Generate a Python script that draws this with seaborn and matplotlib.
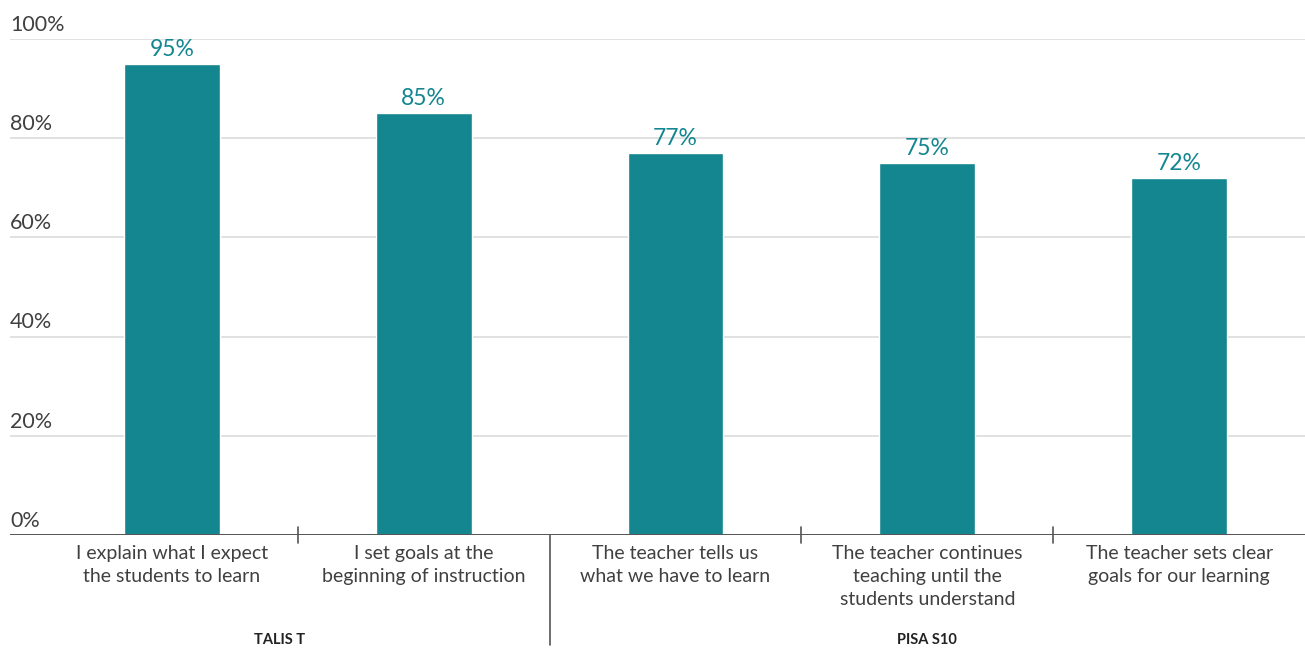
import matplotlib
matplotlib.use("Agg")
import matplotlib.pyplot as plt
import matplotlib.transforms as mtransforms
import seaborn as sns
import pandas as pd

# Data
categories = [
    "I explain what I expect\nthe students to learn",
    "I set goals at the\nbeginning of instruction",
    "The teacher tells us\nwhat we have to learn",
    "The teacher continues\nteaching until the\nstudents understand",
    "The teacher sets clear\ngoals for our learning",
]
values = [95, 85, 77, 75, 72]
groups = ["TALIS T", "PISA S10"]
group_sizes = [2, 3]
y_ticks = [0, 20, 40, 60, 80, 100]
y_tick_labels = ["0%", "20%", "40%", "60%", "80%", "100%"]

bar_color = "#13868f"
label_color = "#13868f"
text_color = "#404040"

sns.set_style("white")
plt.rcParams["font.family"] = ["Lato", "DejaVu Sans"]

fig = plt.figure(figsize=(13.05, 6.48), dpi=100)
ax = fig.add_axes([10 / 1305, (648 - 535) / 648, 1295 / 1305, (535 - 39) / 648])

df = pd.DataFrame({"cat": categories, "val": values})
sns.barplot(data=df, x="cat", y="val", color=bar_color, width=0.38,
            saturation=1, ax=ax, zorder=3)

ax.set_xlim(-0.643, 4.5)
ax.set_ylim(0, 100)
ax.set_xlabel("")
ax.set_ylabel("")

# Gridlines
for yv in y_ticks[1:]:
    ax.axhline(yv, color="#dcdcdc", lw=1.2, zorder=1)
ax.axhline(0, color="#555555", lw=1.4, zorder=4)

for s in ax.spines.values():
    s.set_visible(False)

# Y labels sitting above gridlines at the left edge
ax.set_yticks([])
blend = mtransforms.blended_transform_factory(ax.transAxes, ax.transData)
lift = mtransforms.offset_copy(blend, fig=fig, x=0, y=3, units="points")
for yv, lab in zip(y_ticks, y_tick_labels):
    ax.text(0, yv, lab, transform=lift, ha="left", va="bottom",
            fontsize=15.5, color=text_color)

# Value labels
for cont in ax.containers:
    ax.bar_label(cont, labels=[f"{v}%" for v in values], padding=3,
                 fontsize=16.5, color=label_color)

# Category labels
ax.set_xticks(range(len(categories)))
ax.set_xticklabels(categories, fontsize=14, color=text_color,
                   linespacing=1.45)
ax.tick_params(axis="x", length=0, pad=7)

# Separators between categories and groups
xblend = mtransforms.blended_transform_factory(ax.transData, ax.transAxes)
ax_h_px = 535 - 39
boundaries = [0.5, 1.5, 2.5, 3.5]
group_edges = [1.5]
for b in boundaries:
    if b in group_edges:
        ax.plot([b, b], [0, -110 / ax_h_px], transform=xblend, color="#555555",
                lw=1.2, clip_on=False, zorder=5)
    else:
        ax.plot([b, b], [8 / ax_h_px, -8 / ax_h_px], transform=xblend,
                color="#555555", lw=1.2, clip_on=False, zorder=5)

# Group labels
start = -0.643
pos = 0
for g, n in zip(groups, group_sizes):
    left = start if pos == 0 else pos - 0.5
    right = pos + n - 0.5
    if pos + n == len(categories):
        right = 4.5
    ax.text((left + right) / 2, -112 / ax_h_px, g, transform=xblend,
            ha="center", va="bottom", fontsize=10.5, fontweight="bold",
            color="#222222")
    pos += n

fig.savefig("out.png", dpi=100)
